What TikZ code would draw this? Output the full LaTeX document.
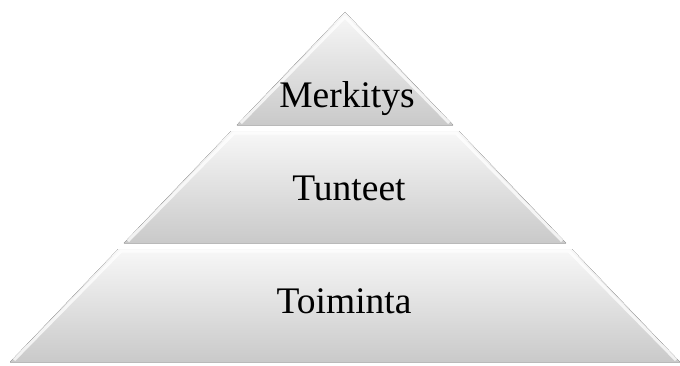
\documentclass[tikz,border=0pt]{standalone}
\usepackage{fontspec}
\setmainfont{Liberation Serif}
\usetikzlibrary{calc}
\begin{document}
\begin{tikzpicture}[x=1pt,y=1pt,
  band/.style={top color=gray!6, bottom color=gray!42, draw=none},
  bevel/.style={draw=white, line width=3pt, opacity=0.75, line join=round},
  edge/.style={draw=gray!55, line width=0.6pt},
  label/.style={font=\fontsize{37.5}{42}\selectfont, text=black}]
\useasboundingbox (0,0) rectangle (680,365);

% top band (apex)
\coordinate (a) at (345,353);
\coordinate (a1) at (236.8,240);
\coordinate (a2) at (453.2,240);
% middle band
\coordinate (b1) at (231.1,234);
\coordinate (b2) at (458.9,234);
\coordinate (b3) at (566.1,122);
\coordinate (b4) at (123.9,122);
% bottom band
\coordinate (c1) at (118.2,116);
\coordinate (c2) at (571.8,116);
\coordinate (c3) at (680,3);
\coordinate (c4) at (10,3);

\fill[band] (a) -- (a2) -- (a1) -- cycle;
\fill[band] (b1) -- (b2) -- (b3) -- (b4) -- cycle;
\fill[band] (c1) -- (c2) -- (c3) -- (c4) -- cycle;

% soft highlights on the upper and left edges
\draw[bevel] ($(a1)+(4,2)$) -- ($(a)+(0,-5)$) -- ($(a2)+(-4,2)$);
\draw[bevel] ($(b4)+(4,2)$) -- ($(b1)+(3,-2)$) -- ($(b2)+(-3,-2)$) -- ($(b3)+(-4,2)$);
\draw[bevel] ($(c4)+(4,2)$) -- ($(c1)+(3,-2)$) -- ($(c2)+(-3,-2)$) -- ($(c3)+(-4,2)$);

% darker lower edges
\draw[edge] (a1) -- (a2);
\draw[edge] (b4) -- (b3);
\draw[edge] (c4) -- (c3);

\node[label] (m) at (347,266) {Merkitys};
\node[label] (t) at (349,177) {Tunteet};
\node[label] (o) at (344,64) {Toiminta};
\end{tikzpicture}
\end{document}
